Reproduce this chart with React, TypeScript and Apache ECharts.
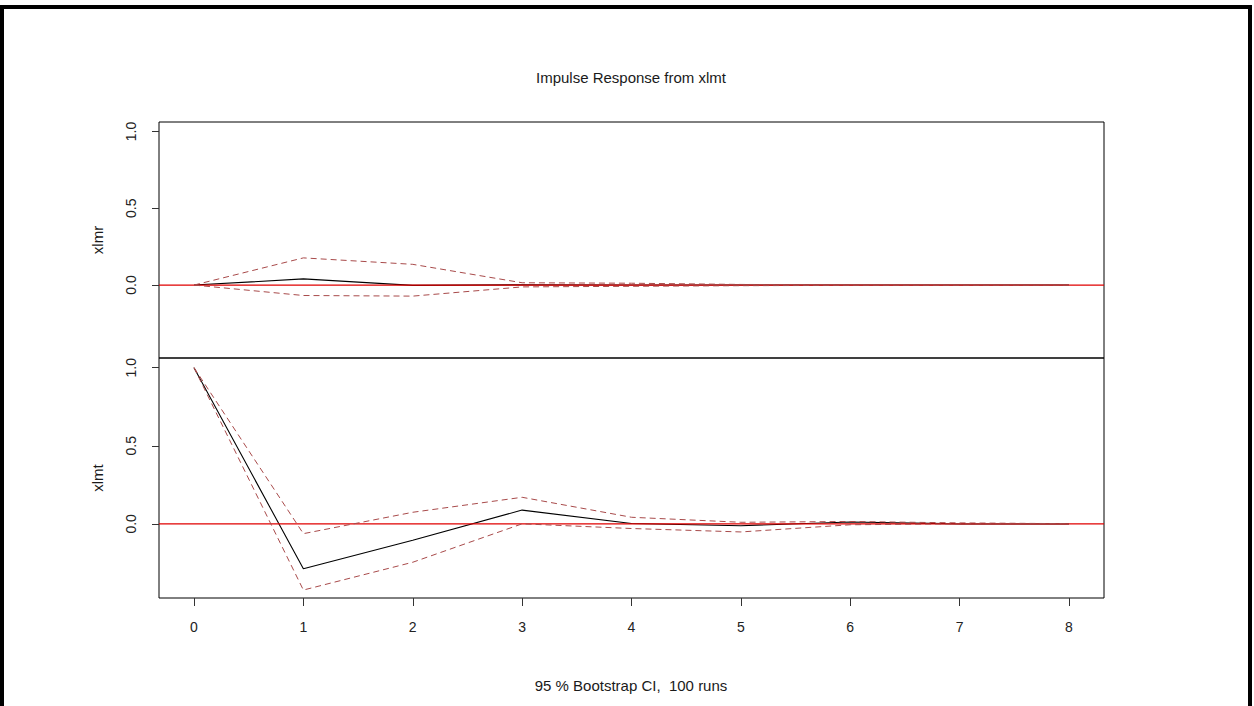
import React, { useEffect, useRef } from "react";
import * as echarts from "echarts";

// Forecast horizon (steps after the shock)
const steps = [0, 1, 2, 3, 4, 5, 6, 7, 8];

// Response of xlmr to an xlmt shock, with bootstrap bounds
const xlmrIrf = [0, 0.04, -0.002, 0.0015, 0.0, 0.0, 0.0, 0.0, 0.0];
const xlmrUpper = [0, 0.177, 0.135, 0.015, 0.012, 0.004, 0.002, 0.002, 0.001];
const xlmrLower = [0, -0.068, -0.072, -0.012, -0.008, -0.004, -0.002, -0.002, -0.001];

// Response of xlmt to its own shock, with bootstrap bounds
const xlmtIrf = [1.0, -0.288, -0.105, 0.088, 0.002, -0.012, 0.012, 0.0, 0.0];
const xlmtUpper = [1.0, -0.063, 0.074, 0.17, 0.042, 0.01, 0.015, 0.006, 0.001];
const xlmtLower = [1.0, -0.424, -0.246, 0.0, -0.03, -0.052, -0.006, 0.0, 0.0];

const xTicks = [0, 1, 2, 3, 4, 5, 6, 7, 8];
const yTicks = [0, 0.5, 1.0];
const panelNames = ["xlmr", "xlmt"];

const FONT = "'Liberation Sans', Arial, sans-serif";

// horizontal axis limits (R-style 4% padding around 0..8)
const X_MIN = -0.32;
const X_MAX = 8.32;
// common vertical limits of both panels
const Y_MIN = -0.475;
const Y_MAX = 1.062;

const pairs = (vals: number[]) => steps.map((s, i) => [s, vals[i]]);

export default function App() {
  const ref = useRef<HTMLDivElement>(null);

  useEffect(() => {
    if (!ref.current) return;
    const chart = echarts.init(ref.current, undefined, { renderer: "svg" });

    const panels = [
      { irf: xlmrIrf, up: xlmrUpper, lo: xlmrLower },
      { irf: xlmtIrf, up: xlmtUpper, lo: xlmtLower },
    ];

    const series: any[] = [];
    panels.forEach((p, k) => {
      // point estimate
      series.push({
        type: "line",
        xAxisIndex: k,
        yAxisIndex: k,
        data: pairs(p.irf),
        symbol: "none",
        silent: true,
        z: 2,
        lineStyle: { color: "#000000", width: 1.1 },
      });
      // horizontal reference at zero across the whole panel
      series.push({
        type: "line",
        xAxisIndex: k,
        yAxisIndex: k,
        data: [
          [X_MIN, 0],
          [X_MAX, 0],
        ],
        symbol: "none",
        silent: true,
        z: 4,
        lineStyle: { color: "#e00000", width: 1.2, type: "solid" },
      });
      // bootstrap bounds
      [p.up, p.lo].forEach((vals) => {
        series.push({
          type: "line",
          xAxisIndex: k,
          yAxisIndex: k,
          data: pairs(vals),
          symbol: "none",
          silent: true,
          z: 6,
          lineStyle: { color: "#a84a4a", width: 1, type: [6, 4] },
        });
      });
    });

    const yAxis = panelNames.map((name, k) => ({
      type: "value",
      gridIndex: k,
      min: Y_MIN,
      max: Y_MAX,
      name,
      nameLocation: "middle",
      nameGap: 54,
      nameRotate: 90,
      nameTextStyle: { fontFamily: FONT, fontSize: 15, color: "#1a1a1a" },
      axisLine: { show: false, onZero: false },
      splitLine: { show: false },
      axisTick: {
        show: true,
        customValues: yTicks,
        length: 7,
        lineStyle: { color: "#333333", width: 1 },
      },
      axisLabel: {
        show: true,
        customValues: yTicks,
        rotate: 90,
        margin: 21,
        fontFamily: FONT,
        fontSize: 14,
        color: "#222222",
        formatter: (v: number) => v.toFixed(1),
      },
    }));

    const xAxis = [0, 1].map((k) => ({
      type: "value",
      gridIndex: k,
      min: X_MIN,
      max: X_MAX,
      show: k === 1,
      axisLine: { show: false, onZero: false },
      splitLine: { show: false },
      axisTick: {
        show: k === 1,
        customValues: xTicks,
        length: 8,
        lineStyle: { color: "#333333", width: 1 },
      },
      axisLabel: {
        show: k === 1,
        customValues: xTicks,
        margin: 22,
        fontFamily: FONT,
        fontSize: 14,
        color: "#222222",
        formatter: (v: number) => String(Math.round(v)),
      },
    }));

    chart.setOption({
      animation: false,
      backgroundColor: "#ffffff",
      grid: [
        { left: 159, top: 122, width: 945, height: 236, show: true, borderColor: "#000000", borderWidth: 1, backgroundColor: "transparent", containLabel: false },
        { left: 159, top: 358, width: 945, height: 240, show: true, borderColor: "#000000", borderWidth: 1, backgroundColor: "transparent", containLabel: false },
      ],
      xAxis,
      yAxis,
      series,
      graphic: [
        // outer frame
        { type: "rect", shape: { x: 0, y: 5, width: 4, height: 701 }, style: { fill: "#000000" }, silent: true },
        { type: "rect", shape: { x: 0, y: 5, width: 1252, height: 4 }, style: { fill: "#000000" }, silent: true },
        { type: "rect", shape: { x: 1248, y: 5, width: 4, height: 701 }, style: { fill: "#000000" }, silent: true },
        {
          type: "text",
          x: 631,
          y: 77,
          silent: true,
          style: {
            text: "Impulse Response from xlmt",
            textAlign: "center",
            textVerticalAlign: "middle",
            fontFamily: FONT,
            fontSize: 15,
            fill: "#1a1a1a",
          },
        },
        {
          type: "text",
          x: 631,
          y: 685,
          silent: true,
          style: {
            text: "95 % Bootstrap CI,  100 runs",
            textAlign: "center",
            textVerticalAlign: "middle",
            fontFamily: FONT,
            fontSize: 15,
            fill: "#1a1a1a",
          },
        },
      ],
    });

    return () => chart.dispose();
  }, []);

  return (
    <div
      ref={ref}
      style={{ position: "fixed", left: 0, top: 0, width: 1254, height: 706, background: "#fff" }}
    />
  );
}
